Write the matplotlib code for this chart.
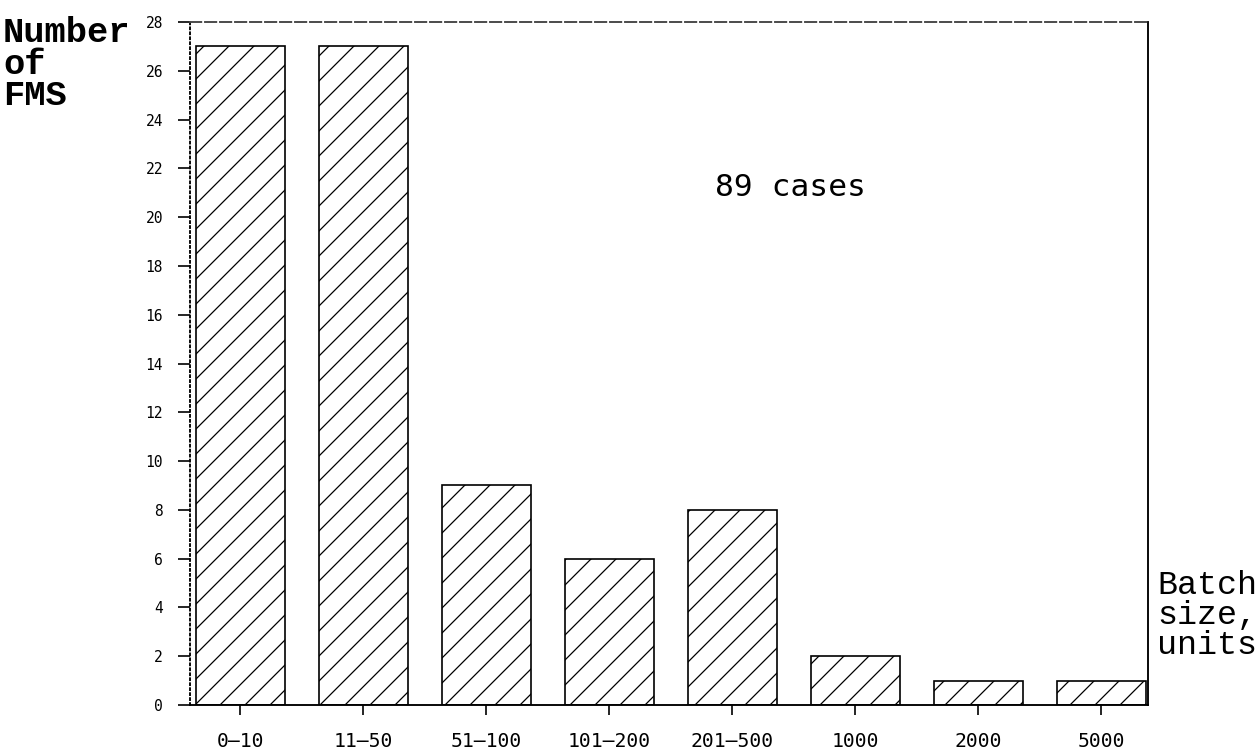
import numpy as np
import matplotlib.pyplot as plt

# Datos del gráfico
categorias = ["0–10", "11–50", "51–100", "101–200", "201–500", "1000", "2000", "5000"]
num_fms = [27, 27, 9, 6, 8, 2, 1, 1]
y_ticks = list(range(0, 29, 2))
texto_casos = "89 cases"

plt.rcParams['hatch.linewidth'] = 0.6
plt.rcParams['hatch.color'] = '#555555'

fig = plt.figure(figsize=(8.4, 5.0), dpi=150)
ax = fig.add_axes([190 / 1260, 45 / 750, 958 / 1260, 683 / 750])

x = np.arange(len(categorias))
ax.bar(x, num_fms, width=0.72, color='white', edgecolor='black',
       linewidth=0.8, hatch='//')

ax.set_xlim(-0.41, 7.38)
ax.set_ylim(0, 28)
ax.set_xticks(x)
ax.set_xticklabels(categorias, family='DejaVu Sans Mono', fontsize=9.5)
ax.set_yticks(y_ticks)
ax.set_yticklabels([str(v) for v in y_ticks], family='DejaVu Sans Mono', fontsize=7)
ax.tick_params(axis='y', direction='out', length=6, width=0.8, pad=7)
ax.tick_params(axis='x', direction='out', length=5, width=0.8, pad=8)

# Bordes del marco
ax.spines['left'].set_linestyle(':')
ax.spines['top'].set_linestyle((0, (6, 2)))
ax.spines['top'].set_color('#444444')
for s in ax.spines.values():
    s.set_linewidth(0.9)

ax.text(4.47, 21.2, texto_casos, family='DejaVu Sans Mono', fontsize=15,
        ha='center', va='center')

# Etiquetas de los ejes
fig.text(3 / 1260, 1 - 16 / 750, "Number\nof\nFMS", family='Liberation Mono',
         fontweight='bold', fontsize=17, va='top', ha='left', linespacing=0.95)
fig.text(1157 / 1260, 1 - 570 / 750, "Batch\nsize,\nunits", family='Liberation Mono',
         fontsize=16, va='top', ha='left', linespacing=0.95)

fig.savefig('out.png', dpi=150)
